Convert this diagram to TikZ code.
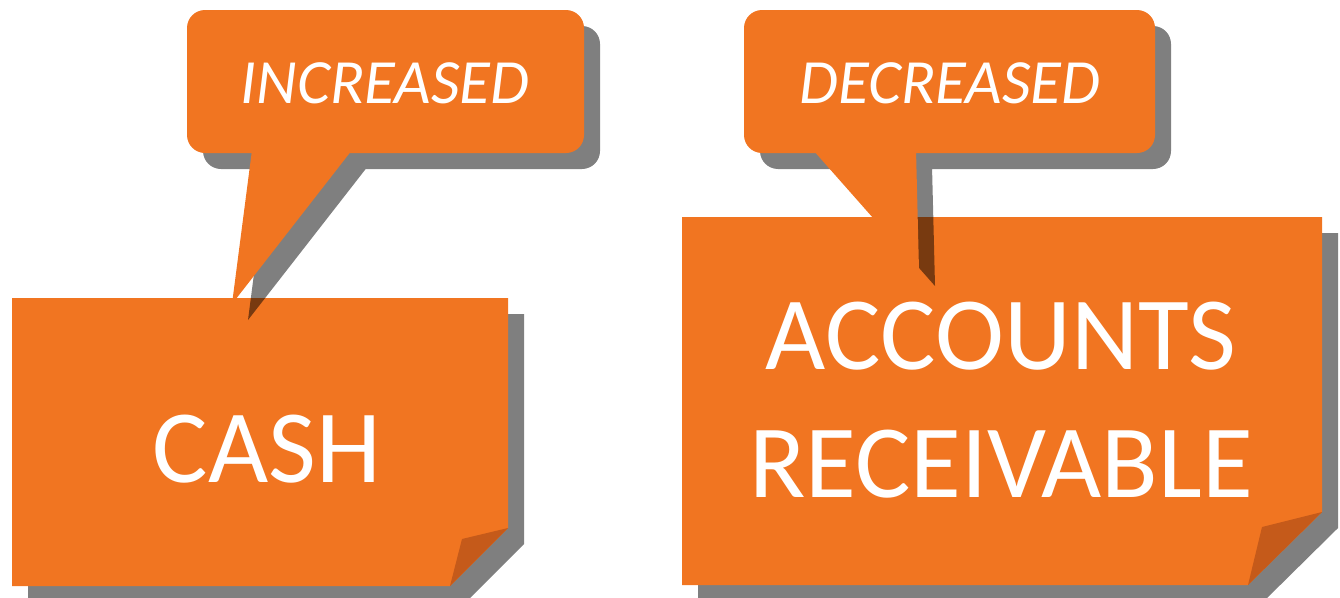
\documentclass[tikz,border=0pt]{standalone}
\usepackage{fontspec}
\setmainfont{Carlito}
\definecolor{notebg}{RGB}{241,117,33}
\definecolor{notefold}{RGB}{197,90,26}
\tikzset{
  notefill/.style={fill=notebg},
  foldfill/.style={fill=notefold},
  shadowfill/.style={fill=black,fill opacity=0.5},
  bigtext/.style={text=white,inner sep=0pt,font=\fontsize{104}{128}\selectfont,align=center},
  calltext/.style={text=white,inner sep=0pt,anchor=base,font=\fontsize{63}{70}\selectfont\itshape},
}
\begin{document}
\begin{tikzpicture}[x=1pt,y=-1pt]
\useasboundingbox (0,0) rectangle (1340,597);
\clip (0,0) rectangle (1340,597);
% ---------- left note: CASH ----------
\fill[shadowfill,shift={(16,16)}] (12,298) -- (508,298) -- (508,528) -- (450,586) -- (12,586) -- cycle;
\fill[notefill] (12,298) -- (508,298) -- (508,528) -- (450,586) -- (12,586) -- cycle;
\fill[foldfill] (508,528) -- (462,539) -- (450,586) -- cycle;
\node[bigtext] (cash) at (267,449) {CASH};
% callout INCREASED
\fill[shadowfill,shift={(16,16)}] [rounded corners=18pt] (187,10) rectangle (584,153) [sharp corners] (252,150) -- (232,304) -- (352,150) -- cycle;
\fill[notefill] [rounded corners=18pt] (187,10) rectangle (584,153) [sharp corners] (252,150) -- (232,304) -- (352,150) -- cycle;
\node[calltext] (inc) at (385,103) {INCREASED};
% ---------- right note: ACCOUNTS RECEIVABLE ----------
\fill[shadowfill,shift={(16,16)}] (682,217) -- (1322,217) -- (1322,512) -- (1248,585) -- (682,585) -- cycle;
\fill[notefill] (682,217) -- (1322,217) -- (1322,512) -- (1248,585) -- (682,585) -- cycle;
\fill[foldfill] (1322,512) -- (1262,527) -- (1248,585) -- cycle;
\node[bigtext] (ar) at (1001,400.5) {ACCOUNTS\\RECEIVABLE};
% callout DECREASED
\fill[shadowfill,shift={(16,16)}] [rounded corners=18pt] (744,10) rectangle (1155,153) [sharp corners] (813,150) -- (919,270) -- (916,150) -- cycle;
\fill[notefill] [rounded corners=18pt] (744,10) rectangle (1155,153) [sharp corners] (813,150) -- (919,270) -- (916,150) -- cycle;
\node[calltext] (dec) at (950,103) {DECREASED};
\end{tikzpicture}
\end{document}
